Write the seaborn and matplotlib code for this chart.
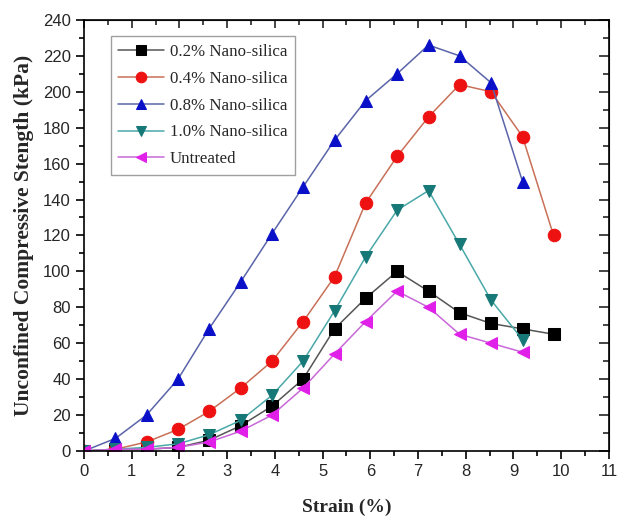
import numpy as np
import pandas as pd
import matplotlib
matplotlib.use("Agg")
import matplotlib.pyplot as plt
from matplotlib.ticker import MultipleLocator
import seaborn as sns

# ---- data ----
strain = [0, 0.66, 1.31, 1.97, 2.62, 3.28, 3.94, 4.59, 5.25, 5.90, 6.56,
          7.22, 7.87, 8.53, 9.19, 9.84]

ns_02 = [0, 1, 1, 2, 6, 14, 25, 40, 68, 85, 100, 89, 77, 71, 68, 65]
ns_04 = [0, 1, 5, 12, 22, 35, 50, 72, 97, 138, 164, 186, 204, 200, 175, 120]
ns_08 = [0, 7, 20, 40, 68, 94, 121, 147, 173, 195, 210, 226, 220, 205, 150]
ns_10 = [0, 1, 2, 4, 9, 17, 31, 50, 78, 108, 134, 145, 115, 84, 62]
untreated = [0, 1, 1, 2, 5, 11, 20, 35, 54, 72, 89, 80, 65, 60, 55]

labels = ["0.2% Nano-silica", "0.4% Nano-silica", "0.8% Nano-silica",
          "1.0% Nano-silica", "Untreated"]
series = [ns_02, ns_04, ns_08, ns_10, untreated]
markers = ["s", "o", "^", "v", "<"]
mark_colors = ["#000000", "#ee1111", "#0a10c8", "#177878", "#e020e8"]
line_colors = ["#555555", "#c87058", "#5a64a8", "#4aa8a8", "#c868d8"]

sns.set_style("ticks")
plt.rcParams["font.family"] = ["Liberation Sans", "DejaVu Sans"]

fig = plt.figure(figsize=(6.19, 5.20), dpi=100)
ax = fig.add_axes([0.1357, 0.1327, 0.848, 0.829])

for lab, vals, m, mc, lc in zip(labels, series, markers, mark_colors, line_colors):
    df = pd.DataFrame({"strain": strain[:len(vals)], "ucs": vals})
    sns.lineplot(data=df, x="strain", y="ucs", ax=ax, color=lc, lw=1.1,
                 marker=m, markersize=9, markerfacecolor=mc,
                 markeredgecolor=mc, label=lab)

ax.set_xlim(0, 11)
ax.set_ylim(0, 240)
ax.xaxis.set_major_locator(MultipleLocator(1))
ax.xaxis.set_minor_locator(MultipleLocator(0.5))
ax.yaxis.set_major_locator(MultipleLocator(20))
ax.yaxis.set_minor_locator(MultipleLocator(10))

ax.tick_params(which="both", direction="out", top=False, right=False,
               labelsize=12, width=1.2, color="black")
ax.tick_params(which="major", length=6)
ax.tick_params(which="minor", length=3.5)
for sp in ax.spines.values():
    sp.set_linewidth(1.2)
    sp.set_color("black")

# inward ticks on top and right
axt = ax.secondary_xaxis("top")
axt.xaxis.set_major_locator(MultipleLocator(1))
axt.xaxis.set_minor_locator(MultipleLocator(0.5))
axt.tick_params(which="both", direction="in", labeltop=False, width=1.2)
axt.tick_params(which="major", length=6)
axt.tick_params(which="minor", length=3.5)
axr = ax.secondary_yaxis("right")
axr.yaxis.set_major_locator(MultipleLocator(20))
axr.yaxis.set_minor_locator(MultipleLocator(10))
axr.tick_params(which="both", direction="in", labelright=False, width=1.2)
axr.tick_params(which="major", length=7)
axr.tick_params(which="minor", length=4)

ax.set_xlabel("Strain (%)", family="Liberation Serif", fontweight="bold",
              fontsize=14, labelpad=14)
ax.set_ylabel("Unconfined Compressive Stength (kPa)", family="Liberation Serif",
              fontweight="bold", fontsize=15.5, labelpad=6)

leg = ax.legend(loc="upper left", bbox_to_anchor=(0.051, 0.962),
                prop={"family": "Liberation Serif", "size": 12.2},
                frameon=True, fancybox=False, edgecolor="#888888",
                handlelength=2.7, handletextpad=0.35, labelspacing=0.64,
                borderpad=0.45, borderaxespad=0.0, markerscale=0.85)
leg.get_frame().set_linewidth(1.0)

fig.savefig("out.png", dpi=100)
